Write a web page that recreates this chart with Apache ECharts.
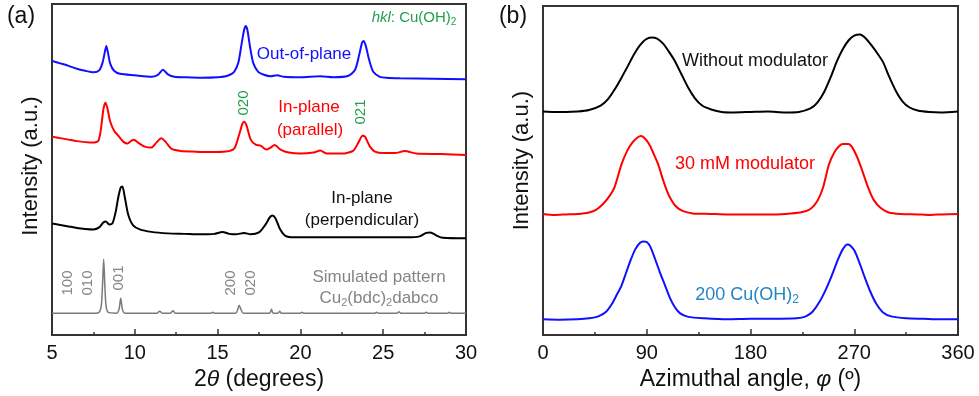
<!DOCTYPE html>
<html>
<head>
<meta charset="utf-8">
<script src="https://cdn.jsdelivr.net/npm/echarts@6/dist/echarts.min.js"></script>
<style>
  html, body { margin: 0; padding: 0; background: #fff; }
  #chart { width: 979px; height: 396px; }
</style>
</head>
<body>
<div id="chart"></div>
<script>
// (a) XRD patterns, [2theta, intensity a.u.] (traces already stacked)
const outOfPlane = [[5.0,275],[5.5,272.5],[6.0,270],[6.5,267],[7.0,265],[7.5,263.5],[7.85,265.5],[8.05,273],[8.18,283],[8.28,290],[8.38,283],[8.52,272],[8.75,265],[9.1,262],[10.0,260.5],[11.0,259],[11.4,261],[11.7,266],[12.0,261.5],[12.4,259],[13.0,258.5],[14.0,258],[15.0,258.5],[15.6,260],[16.0,264],[16.25,273],[16.45,292],[16.6,306],[16.7,310],[16.8,306],[16.95,290],[17.15,273],[17.45,264],[17.8,261],[18.2,259.5],[18.6,260.5],[19.0,259],[20.0,258.5],[21.2,259.5],[22.0,258.5],[22.9,260],[23.3,266],[23.55,281],[23.72,293],[23.82,295],[23.95,290],[24.15,276],[24.4,264],[24.8,259],[25.2,258],[26.0,257.5],[28.0,257],[30.0,256.5]];
const inPlanePar = [[5.0,199],[5.5,197.5],[6.0,196],[6.5,194.5],[7.0,193.5],[7.5,193],[7.8,195],[7.95,206],[8.1,226],[8.22,233],[8.34,228],[8.5,215],[8.75,205],[9.0,200],[9.3,194],[9.55,192],[9.8,195],[9.95,196],[10.2,193],[10.6,189],[11.0,188],[11.3,193],[11.6,197.5],[11.9,193],[12.2,187],[12.8,184.5],[13.5,184],[14.5,183.5],[15.5,184],[16.0,187],[16.3,201],[16.5,212],[16.6,214],[16.75,210],[17.0,196],[17.3,191],[17.6,190],[17.95,186],[18.2,188],[18.45,190.5],[18.8,186],[19.3,183],[20.0,182],[20.8,183],[21.2,185],[21.6,182],[22.5,182],[23.2,185],[23.5,193],[23.75,200],[23.9,199],[24.2,189],[24.5,184],[25.0,182.5],[25.7,182.5],[26.3,184.5],[27.0,182],[28.5,181.5],[30.0,180.5]];
const inPlanePerp = [[5.0,112],[5.5,110.5],[6.0,109],[6.5,107.5],[7.0,106.5],[7.5,106],[7.85,108],[8.1,113],[8.25,114],[8.45,111],[8.65,112],[8.85,124],[9.0,138],[9.15,148],[9.25,149],[9.4,138],[9.6,121],[9.9,110],[10.3,106],[11.0,103.5],[12.0,102],[13.0,101.5],[14.0,101],[14.8,101.5],[15.3,103.5],[15.7,101.5],[16.1,101],[16.6,102.5],[17.0,101],[17.5,103],[17.9,111],[18.15,118],[18.3,120],[18.5,117],[18.75,107],[19.1,99.5],[19.6,98],[21.0,98],[23.0,98],[25.0,98],[26.5,98],[27.2,99],[27.6,102.5],[27.85,103],[28.2,100],[28.6,97.5],[30.0,97]];
const simulated = [[5.0,22],[7.6,22],[7.85,23],[7.98,30],[8.05,50],[8.12,76],[8.19,50],[8.26,30],[8.38,23],[8.9,22],[9.05,26],[9.15,37],[9.25,26],[9.4,22],[11.35,22],[11.5,24],[11.65,22],[12.15,22],[12.3,24.5],[12.45,22],[14.6,22],[14.7,23],[14.8,22],[16.1,22],[16.22,26],[16.3,30],[16.4,26],[16.55,22],[18.15,22],[18.25,26],[18.35,22],[18.65,22],[18.75,24],[18.85,22],[20.0,22],[20.1,23],[20.2,22],[24.5,22],[24.6,23],[24.7,22],[25.85,22],[25.95,23.5],[26.05,22],[27.5,22],[27.6,23],[27.7,22],[28.9,22],[29.0,23],[29.1,22],[30.0,22]];

// (b) azimuthal profiles, [phi, intensity a.u.]
const withoutMod = [[0,227],[10,226.5],[20,226.5],[30,227],[40,228.5],[50,233],[56,239],[62,249],[68,261],[74,274],[79,285],[84,294],[89,300],[94,302],[99,301],[104,296],[109,288],[114,279],[120,265],[126,251],[132,240],[138,233],[146,229],[155,226.5],[165,226],[180,226.5],[195,227],[210,226],[222,226.5],[232,230],[238,236],[244,247],[250,263],[255,278],[260,290],[265,299],[270,304],[275,305],[280,301],[285,294],[290,286],[295,277],[300,263],[306,248],[312,237],[318,231],[325,228],[335,226.5],[345,226],[360,227]];
const mod30 = [[0,123],[10,122],[20,122.5],[30,123],[40,124.5],[46,127],[52,133],[57,140],[62,150],[68,173],[73,187],[78,196],[82,200.5],[85,202],[88,200],[92,194],[96,184],[100,173],[104,158],[107,148],[110,140],[115,131],[121,126],[130,123.5],[145,123],[160,122.5],[180,122.5],[200,122.5],[215,123.5],[225,125],[232,128],[238,136],[243,150],[248,173],[253,186],[257,192],[260,194],[265,194],[268,191],[272,182],[276,170],[282,150],[287,137],[293,129],[300,124.5],[310,123],[325,122.5],[335,122],[345,122.5],[360,123]];
const cuoh200 = [[0,16],[15,15.5],[30,16],[40,17],[48,19],[55,24],[60,32],[64,41],[68,50],[72,63],[76,76],[80,87],[84,93.5],[87,95],[90,94.5],[93,90],[97,78],[101,65],[106,50],[110,38],[114,29],[119,22],[126,18.5],[140,17],[160,16],[180,16.5],[200,16.5],[220,17],[228,19],[234,24],[240,34],[246,48],[251,62],[256,77],[260,87],[264,92],[266,91.5],[270,86],[274,75],[279,59],[284,44],[289,32],[295,23],[302,19],[315,17],[330,16.5],[345,16],[360,16]];

const FONT = 'Arial, "Liberation Sans", sans-serif';
const GREEN = '#22a050';
const GRAY = '#858585';

const chart = echarts.init(document.getElementById('chart'));

const txt = (x, y, text, fill, size, extra) => Object.assign({
  type: 'text', x: x, y: y,
  style: { text: text, fill: fill, fontSize: size, fontFamily: FONT, align: 'center', verticalAlign: 'middle' }
}, extra || {});

// rich text with subscripts
const subRich = (fill, size) => ({
  n: { fill: fill, fontSize: size, fontFamily: FONT, lineHeight: size + 4 },
  i: { fill: fill, fontSize: size, fontFamily: FONT, fontStyle: 'italic', lineHeight: size + 4 },
  s: { fill: fill, fontSize: Math.round(size * 0.65), fontFamily: FONT, verticalAlign: 'bottom', lineHeight: Math.round(size * 0.65) }
});
const richTxt = (x, y, text, fill, size) => ({
  type: 'text', x: x, y: y,
  style: { text: text, rich: subRich(fill, size), fill: fill, align: 'center', verticalAlign: 'middle' }
});
const ROT = { rotation: Math.PI / 2 };

const xAxisBase = (grid, min, max, interval, name) => ({
  type: 'value', gridIndex: grid, min: min, max: max, interval: interval,
  axisLine: { show: false },
  axisTick: { inside: true, length: 6, lineStyle: { color: '#333', width: 1.5 } },
  minorTick: { show: true, splitNumber: 2, length: 3, lineStyle: { color: '#333', width: 1.5 } },
  splitLine: { show: false },
  axisLabel: { fontSize: 20, color: '#111', fontFamily: FONT, margin: 8 },
  name: name, nameLocation: 'middle',
  nameTextStyle: {
    rich: {
      n: { fontSize: 23, color: '#111', fontFamily: FONT },
      i: { fontSize: 23, color: '#111', fontFamily: FONT, fontStyle: 'italic' }
    }
  }
});
const yAxisBase = (grid, max, shiftUp) => ({
  type: 'value', gridIndex: grid, min: 0, max: max,
  axisLine: { show: false }, axisTick: { show: false }, axisLabel: { show: false }, splitLine: { show: false },
  name: 'Intensity (a.u.)', nameLocation: 'middle', nameGap: 10,
  nameTextStyle: { fontSize: 22, color: '#111', fontFamily: FONT, padding: [0, 0, 0, shiftUp] }
});

const line = (data, color, xi, width) => ({
  type: 'line', data: data, xAxisIndex: xi, yAxisIndex: xi,
  showSymbol: false, symbol: 'none', smooth: 0.25,
  lineStyle: { color: color, width: width || 2 },
  animation: false
});

const xa = xAxisBase(0, 5, 30, 5, '{n|2}{i|θ}{n| (degrees)}');
xa.nameGap = 30;
const xb = xAxisBase(1, 0, 360, 90, '{n|Azimuthal angle, }{i|φ}{n| (º)}');
xb.nameGap = 26;

chart.setOption({
  animation: false,
  grid: [
    { left: 52, top: 4, width: 414, height: 332, show: true, borderColor: '#333', borderWidth: 2 },
    { left: 543, top: 6, width: 415, height: 334, show: true, borderColor: '#333', borderWidth: 2 }
  ],
  xAxis: [xa, xb],
  yAxis: [yAxisBase(0, 332, 7), yAxisBase(1, 334, 20)],
  series: [
    line(simulated, '#7a7a7a', 0, 1.5),
    line(inPlanePerp, '#000', 0),
    line(inPlanePar, '#ff0000', 0),
    line(outOfPlane, '#1010ff', 0),
    line(withoutMod, '#000', 1),
    line(mod30, '#ff0000', 1),
    line(cuoh200, '#1010ff', 1)
  ],
  graphic: [
    txt(21, 17, '(a)', '#111', 23),
    txt(513, 17, '(b)', '#111', 23),
    {
      type: 'text', x: 414, y: 18,
      style: {
        text: '{i|hkl}{n|: Cu(OH)}{s|2}', align: 'center', verticalAlign: 'middle',
        rich: Object.assign(subRich(GREEN, 15), { i: { fill: GREEN, fontSize: 15, fontFamily: FONT, fontStyle: 'italic', lineHeight: 19 } })
      }
    },
    txt(304, 54, 'Out-of-plane', '#1010ff', 17),
    txt(244, 103, '020', GREEN, 15, ROT),
    txt(361, 112, '021', GREEN, 15, ROT),
    txt(309, 107, 'In-plane', '#ff0000', 17),
    txt(310, 130, '(parallel)', '#ff0000', 17),
    txt(362, 198, 'In-plane', '#111', 17),
    txt(362, 220, '(perpendicular)', '#111', 17),
    txt(379, 277, 'Simulated pattern', GRAY, 17),
    richTxt(379, 298, '{n|Cu}{s|2}{n|(bdc)}{s|2}{n|dabco}', GRAY, 17),
    txt(68, 283, '100', GRAY, 15, ROT),
    txt(88, 283, '010', GRAY, 15, ROT),
    txt(119, 278, '001', GRAY, 15, ROT),
    txt(231, 283, '200', GRAY, 15, ROT),
    txt(251, 283, '020', GRAY, 15, ROT),
    txt(755, 61, 'Without modulator', '#111', 18),
    txt(745, 164, '30 mM modulator', '#ff0000', 18),
    richTxt(747, 295, '{n|200 Cu(OH)}{s|2}', '#2585c5', 18)
  ]
});
</script>
</body>
</html>
